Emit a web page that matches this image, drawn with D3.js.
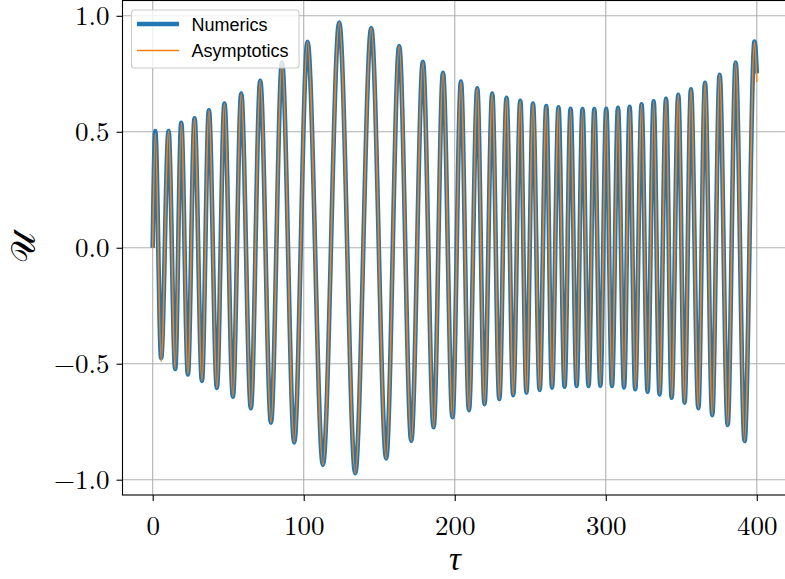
<!DOCTYPE html>
<html lang="en">
<head>
  <meta charset="UTF-8" />
  <title>Numerics vs Asymptotics</title>
  <script src="https://d3js.org/d3.v7.min.js"></script>
  <style>
    body, html {
      margin: 0;
      padding: 0;
      background: #fff;
    }
    #chart {
      display: block;
    }
    .tick-label {
      font-family: "Latin Modern Roman", "CMU Serif", "Liberation Serif", serif;
      font-size: 27px;
      fill: #000;
    }
    .legend-text {
      font-family: "Liberation Sans", Arial, sans-serif;
      font-size: 18px;
      fill: #000;
    }
  </style>
</head>
<body>
  <svg id="chart" width="785" height="579"></svg>
  <script>
    // Extrema (peaks / troughs), tau positions
    const tauPoints = [
      0, 1.7, 5.6, 10.5, 14.9, 18.9, 23.3, 27.7, 32.6, 37.2, 42.5, 47.5, 53.1, 58.6, 65.0,
      71.2, 78.3, 85.6, 93.7, 102.5, 112.7, 123.5, 134.1, 144.7, 154.6, 163.2, 171.2,
      178.9, 186.0, 192.2, 198.5, 204.1, 209.4, 214.9, 219.7, 224.8, 229.5, 234.3, 238.7,
      243.4, 247.5, 251.8, 256.2, 260.6, 264.4, 268.7, 272.7, 276.7, 280.7, 284.6, 288.6,
      292.4, 296.4, 300.3, 304.1, 308.1, 312.1, 315.8, 319.5, 323.7, 327.7, 331.7, 335.6,
      339.9, 343.6, 348.0, 352.2, 356.4, 361.3, 365.7, 370.5, 375.4, 380.7, 386.0, 391.9,
      398.5, 400
    ];

    // Numerics, values of U at those points
    const numericsU = [
      0, 0.503, -0.476, 0.503, -0.523, 0.539, -0.546, 0.558, -0.574, 0.593, -0.604, 0.622, -0.642, 0.665, -0.692,
      0.720, -0.754, 0.800, -0.839, 0.888, -0.936, 0.971, -0.972, 0.947, -0.908, 0.870, -0.832,
      0.802, -0.774, 0.754, -0.731, 0.717, -0.700, 0.687, -0.674, 0.665, -0.652, 0.647, -0.636,
      0.634, -0.625, 0.622, -0.613, 0.611, -0.603, 0.605, -0.599, 0.599, -0.596, 0.598, -0.596,
      0.598, -0.595, 0.599, -0.596, 0.603, -0.602, 0.608, -0.610, 0.618, -0.621, 0.631, -0.632,
      0.642, -0.647, 0.659, -0.668, 0.683, -0.692, 0.711, -0.722, 0.746, -0.764, 0.799, -0.833,
      0.889, 0.752
    ];

    // Asymptotics, same points (differs a little at the ends)
    const asymptoticsU = [
      0, 0.495, -0.490, 0.503, -0.523, 0.539, -0.546, 0.558, -0.574, 0.593, -0.604, 0.622, -0.642, 0.665, -0.692,
      0.720, -0.754, 0.800, -0.839, 0.888, -0.936, 0.971, -0.972, 0.947, -0.908, 0.870, -0.832,
      0.802, -0.774, 0.754, -0.731, 0.717, -0.700, 0.687, -0.674, 0.665, -0.652, 0.647, -0.636,
      0.634, -0.625, 0.622, -0.613, 0.611, -0.603, 0.605, -0.599, 0.599, -0.596, 0.598, -0.596,
      0.598, -0.595, 0.599, -0.596, 0.603, -0.602, 0.608, -0.610, 0.618, -0.621, 0.631, -0.632,
      0.642, -0.647, 0.659, -0.668, 0.683, -0.692, 0.711, -0.722, 0.746, -0.764, 0.799, -0.833,
      0.889, 0.715
    ];

    const xTicks = [0, 100, 200, 300, 400];
    const yTicks = [-1.0, -0.5, 0.0, 0.5, 1.0];
    const legendLabels = ['Numerics', 'Asymptotics'];

    const svg = d3.select('#chart');

    // plot area
    const plotL = 122.5, plotR = 787, plotT = 0.5, plotB = 495;

    const x = d3.scaleLinear().domain([-20, 420]).range([plotL, plotR]);
    const y = d3.scaleLinear().domain([-1.066, 1.066]).range([plotB, plotT]);

    svg.append('defs').append('clipPath').attr('id', 'plot-clip')
      .append('rect')
      .attr('x', plotL).attr('y', plotT)
      .attr('width', plotR - plotL).attr('height', plotB - plotT);

    // grid
    const grid = svg.append('g').attr('stroke', '#b0b0b0').attr('stroke-width', 1.1);
    grid.selectAll('.gx').data(xTicks).enter().append('line')
      .attr('x1', d => x(d)).attr('x2', d => x(d))
      .attr('y1', plotT).attr('y2', plotB);
    grid.selectAll('.gy').data(yTicks).enter().append('line')
      .attr('x1', plotL).attr('x2', plotR)
      .attr('y1', d => y(d)).attr('y2', d => y(d));

    // lines
    const numericsData = tauPoints.map((t, i) => [t, numericsU[i]]);
    const asymptoticsData = tauPoints.map((t, i) => [t, asymptoticsU[i]]);

    const line = d3.line()
      .x(d => x(d[0]))
      .y(d => y(d[1]))
      .curve(d3.curveMonotoneX);

    const plot = svg.append('g').attr('clip-path', 'url(#plot-clip)');
    plot.append('path')
      .datum(numericsData)
      .attr('fill', 'none')
      .attr('stroke', '#1f77b4')
      .attr('stroke-width', 4.6)
      .attr('stroke-linejoin', 'round')
      .attr('d', line);
    plot.append('path')
      .datum(asymptoticsData)
      .attr('fill', 'none')
      .attr('stroke', '#ff7f0e')
      .attr('stroke-width', 1.6)
      .attr('stroke-linejoin', 'round')
      .attr('d', line);

    // axes
    const fmt = d => (d < 0 ? '\u2212' : '') + Math.abs(d).toFixed(1);

    const xAxis = svg.append('g')
      .attr('transform', `translate(0,${plotB})`)
      .call(d3.axisBottom(x).tickValues(xTicks).tickSize(6).tickPadding(8).tickFormat(d3.format('d')));
    const yAxis = svg.append('g')
      .attr('transform', `translate(${plotL},0)`)
      .call(d3.axisLeft(y).tickValues(yTicks).tickSize(6).tickPadding(7).tickFormat(fmt));

    [xAxis, yAxis].forEach(a => {
      a.attr('font-family', null).attr('font-size', null);
      a.select('.domain').remove();
      a.selectAll('.tick line').attr('stroke', '#000').attr('stroke-width', 1.1);
      a.selectAll('.tick text').attr('class', 'tick-label');
    });
    xAxis.selectAll('.tick text').attr('dy', '0.95em');
    yAxis.selectAll('.tick text').attr('dy', '0.34em');

    // spines
    svg.append('rect')
      .attr('x', plotL).attr('y', plotT)
      .attr('width', plotR - plotL).attr('height', plotB - plotT)
      .attr('fill', 'none')
      .attr('stroke', '#000')
      .attr('stroke-width', 1.1);

    // axis labels
    svg.append('text')
      .attr('x', 455)
      .attr('y', 570)
      .attr('text-anchor', 'middle')
      .attr('font-family', '"Liberation Serif", serif')
      .attr('font-style', 'italic')
      .attr('font-size', 33)
      .text('\u03C4');

    svg.append('text')
      .attr('transform', `translate(35,${y(0)}) rotate(-90)`)
      .attr('text-anchor', 'middle')
      .attr('font-family', '"DejaVu Serif", "DejaVu Sans", serif')
      .attr('font-size', 34)
      .text('\uD835\uDCB0');

    // legend
    const legend = svg.append('g');
    legend.append('rect')
      .attr('x', 131.5).attr('y', 10)
      .attr('width', 167.5).attr('height', 58)
      .attr('rx', 3)
      .attr('fill', '#fff').attr('fill-opacity', 0.8)
      .attr('stroke', '#cccccc').attr('stroke-width', 1.1);

    const legendColors = ['#1f77b4', '#ff7f0e'];
    const legendWidths = [4.6, 1.6];
    legendLabels.forEach((lab, i) => {
      const ly = 24 + i * 26.5;
      legend.append('line')
        .attr('x1', 137).attr('x2', 179)
        .attr('y1', ly).attr('y2', ly)
        .attr('stroke', legendColors[i])
        .attr('stroke-width', legendWidths[i]);
      legend.append('text')
        .attr('class', 'legend-text')
        .attr('x', 191.5)
        .attr('y', ly + 6.5)
        .text(lab);
    });
  </script>
</body>
</html>
